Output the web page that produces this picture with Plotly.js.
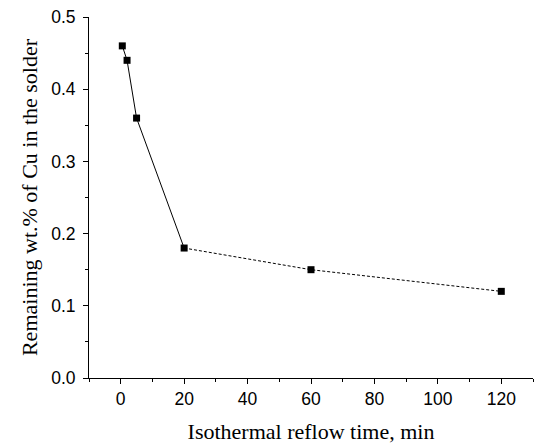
<!DOCTYPE html>
<html>
<head>
<meta charset="utf-8">
<script src="https://cdn.plot.ly/plotly-3.0.1.min.js"></script>
<style>html,body{margin:0;padding:0;background:#fff;}#chart{width:536px;height:447px;}</style>
</head>
<body>
<div id="chart"></div>
<script>
const timeMin = [0.5, 2, 5, 20, 60, 120];
const cuRemaining = [0.46, 0.44, 0.36, 0.18, 0.15, 0.12];
const xTickVals = [0, 20, 40, 60, 80, 100, 120];
const yTickVals = [0.0, 0.1, 0.2, 0.3, 0.4, 0.5];
const yTickText = ['0.0', '0.1', '0.2', '0.3', '0.4', '0.5'];

const solid = {
  x: timeMin.slice(0, 4), y: cuRemaining.slice(0, 4),
  mode: 'lines', type: 'scatter',
  line: {color: '#000', width: 1}, hoverinfo: 'skip'
};
const dashed = {
  x: timeMin.slice(3), y: cuRemaining.slice(3),
  mode: 'lines', type: 'scatter',
  line: {color: '#000', width: 1, dash: '3px,2px'}, hoverinfo: 'skip'
};
const pts = {
  x: timeMin, y: cuRemaining, mode: 'markers', type: 'scatter',
  marker: {symbol: 'square', size: 7, color: '#000'}
};

const layout = {
  width: 536, height: 447,
  margin: {l: 89, r: 3, t: 17, b: 69},
  paper_bgcolor: '#fff', plot_bgcolor: '#fff',
  showlegend: false,
  xaxis: {
    range: [-10, 130], tickvals: xTickVals,
    showline: true, linecolor: '#000', linewidth: 1,
    ticks: 'outside', ticklen: 5, tickcolor: '#000', tickwidth: 1,
    minor: {dtick: 10, ticks: 'outside', ticklen: 3, tickcolor: '#000', showgrid: false},
    showgrid: false, zeroline: false,
    tickfont: {family: 'Liberation Sans, Arial, sans-serif', size: 17.5, color: '#000'},
    title: {text: 'Isothermal reflow time, min', standoff: 15,
      font: {family: 'Liberation Serif, Times New Roman, serif', size: 22, color: '#000'}}
  },
  yaxis: {
    range: [0, 0.5], tickvals: yTickVals, ticktext: yTickText,
    showline: true, linecolor: '#000', linewidth: 1,
    ticks: 'outside', ticklen: 5, tickcolor: '#000', tickwidth: 1,
    ticklabelstandoff: 4,
    minor: {dtick: 0.05, ticks: 'outside', ticklen: 3, tickcolor: '#000', showgrid: false},
    showgrid: false, zeroline: false,
    tickfont: {family: 'Liberation Sans, Arial, sans-serif', size: 17.5, color: '#000'},
    title: {text: 'Remaining wt.% of Cu in the solder', standoff: 7,
      font: {family: 'Liberation Serif, Times New Roman, serif', size: 22, color: '#000'}}
  }
};
Plotly.newPlot('chart', [solid, dashed, pts], layout, {staticPlot: true, displayModeBar: false});
</script>
</body>
</html>
